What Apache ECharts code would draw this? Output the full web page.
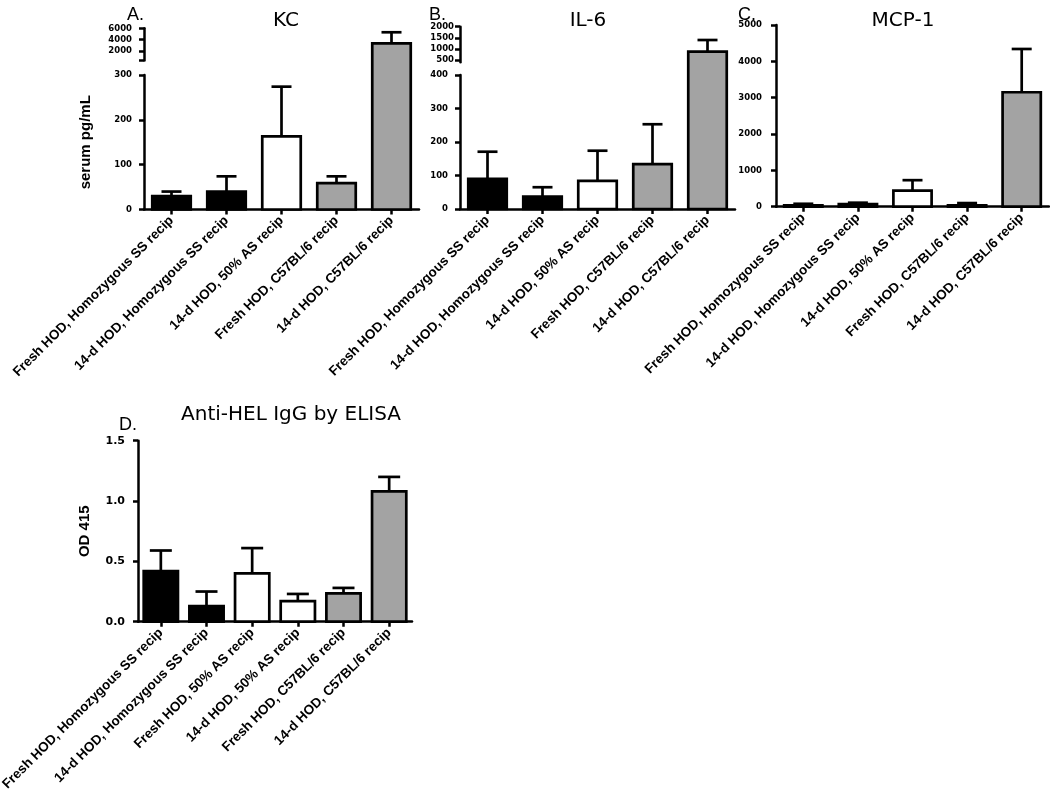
<!DOCTYPE html>
<html>
<head>
<meta charset="utf-8">
<script src="https://cdn.jsdelivr.net/npm/echarts@6.0.0/dist/echarts.min.js"></script>
<style>
html,body{margin:0;padding:0;background:#fff;}
#main{width:1050px;height:803px;}
</style>
</head>
<body>
<div id="main"></div>
<script>
// ---------------- data ----------------
const categoriesABC = [
  'Fresh HOD, Homozygous SS recip',
  '14-d HOD, Homozygous SS recip',
  '14-d HOD, 50% AS recip',
  'Fresh HOD, C57BL/6 recip',
  '14-d HOD, C57BL/6 recip'
];
const categoriesD = [
  'Fresh HOD, Homozygous SS recip',
  '14-d HOD, Homozygous SS recip',
  'Fresh HOD, 50% AS recip',
  '14-d HOD, 50% AS recip',
  'Fresh HOD, C57BL/6 recip',
  '14-d HOD, C57BL/6 recip'
];
const kcMean  = [30, 40, 163, 59, 3350];
const kcSem   = [10, 34, 111, 15, 1950];
const il6Mean = [90, 37, 84, 134, 875];
const il6Sem  = [81, 28, 90, 119, 525];
const mcpMean = [40, 70, 440, 40, 3150];
const mcpSem  = [40, 40, 290, 60, 1190];
const helMean = [0.42, 0.13, 0.40, 0.17, 0.235, 1.08];
const helSem  = [0.17, 0.12, 0.21, 0.06, 0.045, 0.12];
const kcUpperLabels  = [2000, 4000, 6000];
const kcUpperTicks   = [300, 2000, 4000, 6000];
const il6UpperLabels = [500, 1000, 1500, 2000];
const colorsABC = ['#000000', '#000000', '#ffffff', '#a3a3a3', '#a3a3a3'];
const colorsD   = ['#000000', '#000000', '#ffffff', '#ffffff', '#a3a3a3', '#a3a3a3'];

// ---------------- chart ----------------
const chart = echarts.init(document.getElementById('main'));
const BLACK = '#000';
const catFont = {fontFamily: 'Liberation Sans, Arial, sans-serif', fontWeight: 'bold', fontSize: 13.5, color: BLACK};
const tickFont = {fontFamily: 'DejaVu Sans, sans-serif', fontWeight: 'bold', fontSize: 8.5, color: BLACK,
  formatter: (v) => String(v)};

function toData(mean, sem) { return mean.map((m, i) => [i, m, sem[i]]); }

function makeRender(colors, barRatio, cap, upperY, brk) {
  return function (params, api) {
    const i = api.value(0), v = api.value(1), s = api.value(2);
    const toY = (val) => (upperY != null && val > brk)
      ? chart.convertToPixel({yAxisIndex: upperY}, val)
      : api.coord([i, val])[1];
    const base = api.coord([i, 0]);
    const band = api.size([1, 0])[0];
    const w = band * barRatio;
    const yTop = toY(v), yErr = toY(v + s);
    const cx = base[0];
    const lw = 2.7;
    return {
      type: 'group',
      children: [
        {type: 'line', shape: {x1: cx, y1: yTop, x2: cx, y2: yErr}, style: {stroke: BLACK, lineWidth: lw}},
        {type: 'line', shape: {x1: cx - cap / 2, y1: yErr, x2: cx + cap / 2, y2: yErr}, style: {stroke: BLACK, lineWidth: lw}},
        {type: 'rect', shape: {x: cx - w / 2, y: yTop, width: w, height: base[1] - yTop},
          style: {fill: colors[i], stroke: BLACK, lineWidth: lw}}
      ]
    };
  };
}

function catAxis(gridIndex, data, show) {
  return {
    type: 'category', gridIndex, data, show,
    boundaryGap: true,
    axisLine: {show: true, onZero: false, lineStyle: {color: BLACK, width: 2.5}},
    axisTick: {show: true, alignWithLabel: true, length: 5, inside: false, lineStyle: {color: BLACK, width: 2.5}},
    axisLabel: Object.assign({interval: 0, rotate: 45, margin: 9}, catFont),
    splitLine: {show: false}
  };
}
function valAxis(gridIndex, min, max, interval, extra) {
  const ax = {
    type: 'value', gridIndex, min, max,
    axisLine: {show: true, lineStyle: {color: BLACK, width: 2.5}},
    axisTick: {show: true, length: 5, inside: false, lineStyle: {color: BLACK, width: 2.5}},
    axisLabel: Object.assign({margin: 12}, tickFont),
    splitLine: {show: false}
  };
  if (interval != null) ax.interval = interval;
  return Object.assign(ax, extra || {});
}

const titleLetter = {fontFamily: 'Liberation Sans, Arial', fontWeight: 'normal', fontSize: 18, color: BLACK};
const titleMain = {fontFamily: 'DejaVu Sans', fontWeight: 'normal', fontSize: 20, color: BLACK};
const gridBase = {containLabel: false, outerBoundsMode: 'none'};

const option = {
  animation: false,
  backgroundColor: '#fff',
  title: [
    {text: 'A.', left: 122, top: 1, textStyle: titleLetter},
    {text: 'KC', left: 281, top: 6, textAlign: 'center', textStyle: titleMain},
    {text: 'B.', left: 424, top: 1, textStyle: titleLetter},
    {text: 'IL-6', left: 583, top: 6, textAlign: 'center', textStyle: titleMain},
    {text: 'C.', left: 733, top: 1, textStyle: titleLetter},
    {text: 'MCP-1', left: 898, top: 6, textAlign: 'center', textStyle: titleMain},
    {text: 'D.', left: 114, top: 411, textStyle: titleLetter},
    {text: 'Anti-HEL IgG by ELISA', left: 286, top: 400, textAlign: 'center', textStyle: titleMain}
  ],
  grid: [
    Object.assign({left: 144, top: 75,   width: 275, height: 134.5}, gridBase),  // A lower
    Object.assign({left: 144, top: 28.3, width: 275, height: 32.3}, gridBase),   // A upper
    Object.assign({left: 460, top: 75,   width: 275, height: 134}, gridBase),    // B lower
    Object.assign({left: 460, top: 26.7, width: 275, height: 35.5}, gridBase),   // B upper
    Object.assign({left: 776, top: 25,   width: 273, height: 181.7}, gridBase),  // C
    Object.assign({left: 138, top: 440.7, width: 274, height: 181}, gridBase)    // D
  ],
  xAxis: [
    catAxis(0, categoriesABC, true),
    catAxis(1, categoriesABC, false),
    catAxis(2, categoriesABC, true),
    catAxis(3, categoriesABC, false),
    catAxis(4, categoriesABC, true),
    catAxis(5, categoriesD, true)
  ],
  yAxis: [
    valAxis(0, 0, 300, 100, {name: 'serum pg/mL', nameLocation: 'middle', nameGap: 51, nameRotate: 90,
      nameTextStyle: {fontFamily: 'Liberation Sans, Arial', fontWeight: 'bold', fontSize: 15, color: BLACK}}),
    valAxis(1, 300, 6000, null, {
      axisLabel: Object.assign({margin: 12, customValues: kcUpperLabels}, tickFont),
      axisTick: {show: true, length: 5, customValues: kcUpperTicks, lineStyle: {color: BLACK, width: 2.5}}
    }),
    valAxis(2, 0, 400, 100),
    valAxis(3, 400, 2000, null, {
      axisLabel: Object.assign({margin: 6, customValues: il6UpperLabels}, tickFont),
      axisTick: {show: true, length: 5, customValues: il6UpperLabels, lineStyle: {color: BLACK, width: 2.5}}
    }),
    valAxis(4, 0, 5000, 1000, {axisLabel: Object.assign({margin: 14}, tickFont)}),
    valAxis(5, 0, 1.5, 0.5, {
      axisLabel: Object.assign({margin: 13}, tickFont, {fontSize: 11, formatter: (v) => v.toFixed(1)}),
      name: 'OD 415', nameLocation: 'middle', nameGap: 46, nameRotate: 90,
      nameTextStyle: {fontFamily: 'Liberation Sans, Arial', fontWeight: 'bold', fontSize: 15, color: BLACK}
    })
  ],
  series: [
    {type: 'custom', xAxisIndex: 0, yAxisIndex: 0, data: toData(kcMean, kcSem),
      renderItem: makeRender(colorsABC, 0.7, 20, 1, 300)},
    {type: 'custom', xAxisIndex: 2, yAxisIndex: 2, data: toData(il6Mean, il6Sem),
      renderItem: makeRender(colorsABC, 0.7, 20, 3, 400)},
    {type: 'custom', xAxisIndex: 4, yAxisIndex: 4, data: toData(mcpMean, mcpSem),
      renderItem: makeRender(colorsABC, 0.7, 20, null, null)},
    {type: 'custom', xAxisIndex: 5, yAxisIndex: 5, data: toData(helMean, helSem),
      renderItem: makeRender(colorsD, 0.75, 22, null, null)}
  ]
};
chart.setOption(option);
</script>
</body>
</html>
